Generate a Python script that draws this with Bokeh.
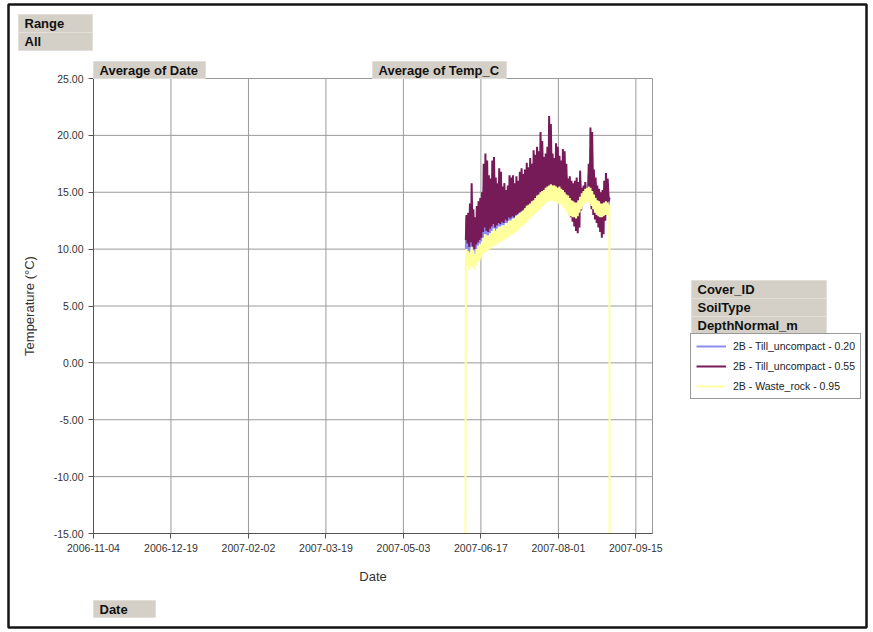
import pandas as pd
from bokeh.plotting import figure
from bokeh.models import (FixedTicker, DatetimeTickFormatter, NumeralTickFormatter, Range1d,
                          Legend, LegendItem, Label, BoxAnnotation)
from bokeh.embed import file_html
from bokeh.resources import INLINE

# ---------------- data ----------------
first_day = "2007-06-08"          # day 0 of the daily arrays below
x_start, x_end = "2006-11-04", "2007-09-24 16:00"
x_tick_labels = ["2006-11-04", "2006-12-19", "2007-02-02", "2007-03-19",
                 "2007-05-03", "2007-06-17", "2007-08-01", "2007-09-15"]
y_ticks = [-15, -10, -5, 0, 5, 10, 15, 20, 25]

series_names = ["2B - Till_uncompact - 0.20",
                "2B - Till_uncompact - 0.55",
                "2B - Waste_rock - 0.95"]

# daily minimum / maximum, Till_uncompact 0.20 m
till_020_lo = [10.0, 9.8, 9.7, 10.0, 9.8, 9.6, 10.0, 10.3, 10.5, 10.7, 11.0, 11.3, 11.2, 11.2, 11.4,
               11.6, 11.8, 11.6, 11.8, 12.0, 12.0, 12.1, 12.1, 12.3, 12.3, 12.5, 12.5, 12.7, 12.7,
               12.9, 13.0, 13.1, 13.2, 13.3, 13.5, 13.6, 13.8, 13.9, 14.0, 14.1, 14.3, 14.5, 14.6,
               14.8, 15.0, 15.1, 15.2, 15.3, 15.4, 15.5, 15.4, 15.4, 15.3, 15.2, 15.3, 15.1, 14.9,
               14.7, 14.4, 14.0, 13.6, 13.4, 13.2, 13.0, 12.8, 12.8, 13.2, 13.8, 14.2, 14.5, 14.6,
               14.8, 14.6, 14.2, 13.8, 13.5, 13.2, 12.9, 12.7, 12.6, 12.8, 13.2, 13.6, 13.8]
till_020_hi = [12.8, 12.5, 13.0, 14.0, 12.6, 12.2, 12.8, 13.2, 13.5, 13.8, 15.5, 16.2, 15.8, 14.9, 14.8,
               15.9, 16.2, 15.0, 14.8, 15.6, 15.4, 14.6, 14.8, 14.5, 14.8, 15.4, 15.3, 15.5, 15.0,
               15.4, 15.2, 15.8, 16.0, 15.7, 16.0, 16.4, 16.2, 16.8, 16.5, 17.3, 17.0, 17.5, 17.2,
               18.2, 17.8, 17.0, 17.2, 17.6, 19.2, 18.8, 17.2, 17.0, 17.8, 17.6, 17.1, 16.8, 17.4,
               17.2, 16.5, 15.6, 15.7, 15.4, 15.2, 15.4, 15.6, 15.3, 16.0, 15.2, 15.4, 15.6, 15.1,
               16.6, 18.8, 18.5, 16.3, 15.8, 15.2, 15.0, 14.8, 14.9, 15.5, 16.0, 15.7, 14.6]

# daily minimum / maximum, Till_uncompact 0.55 m
till_055_lo = [10.8, 10.5, 10.2, 10.6, 10.2, 10.0, 10.4, 10.6, 10.8, 11.0, 11.5, 11.9, 11.6, 11.5, 11.8,
               12.0, 12.2, 11.9, 12.1, 12.3, 12.2, 12.4, 12.3, 12.6, 12.5, 12.8, 12.7, 12.9, 12.8,
               13.0, 13.1, 13.2, 13.2, 13.4, 13.5, 13.6, 13.8, 13.9, 14.0, 14.1, 14.2, 14.4, 14.5,
               14.7, 14.9, 15.0, 15.1, 15.2, 15.3, 15.4, 15.3, 15.3, 15.2, 15.1, 15.2, 15.0, 14.8,
               14.6, 14.3, 13.6, 13.0, 12.8, 12.4, 12.0, 11.6, 11.4, 11.9, 13.4, 14.0, 14.3, 14.5,
               14.6, 14.2, 13.5, 13.0, 12.6, 12.3, 11.9, 11.5, 11.0, 11.3, 12.5, 13.6, 14.2]
till_055_hi = [13.0, 13.2, 14.0, 15.8, 13.5, 12.8, 13.8, 14.2, 14.5, 15.0, 17.5, 18.4, 17.8, 16.5, 16.2,
               17.8, 18.1, 16.3, 15.8, 17.1, 16.8, 15.5, 15.8, 15.2, 15.6, 16.5, 16.3, 16.5, 15.8,
               16.4, 16.0, 16.8, 17.1, 16.6, 17.0, 17.6, 17.2, 18.0, 17.5, 18.7, 18.3, 19.0, 18.6,
               20.3, 19.5, 18.1, 18.4, 19.0, 21.7, 21.0, 18.4, 18.0, 19.3, 19.0, 18.2, 17.8, 18.8,
               18.6, 17.5, 16.2, 16.4, 16.0, 15.8, 16.0, 16.3, 15.9, 16.9, 15.4, 15.6, 15.9, 15.2,
               17.5, 20.7, 20.3, 17.0, 16.3, 15.6, 15.3, 15.0, 15.2, 16.0, 16.7, 16.2, 14.5]

# daily minimum / maximum, Waste_rock 0.95 m (plus the off-scale readings at both ends)
waste_095_lo = [8.8, 8.5, 8.2, 8.6, 8.4, 8.2, 8.6, 8.9, 9.0, 9.2, 9.5, 9.7, 9.8, 9.9, 10.0,
                10.2, 10.3, 10.3, 10.4, 10.6, 10.6, 10.7, 10.8, 10.9, 11.0, 11.1, 11.2, 11.3, 11.4,
                11.5, 11.6, 11.8, 11.9, 12.0, 12.2, 12.3, 12.5, 12.6, 12.8, 12.9, 13.1, 13.2, 13.4,
                13.5, 13.7, 13.8, 14.0, 14.1, 14.2, 14.2, 14.3, 14.2, 14.3, 14.1, 14.0, 14.0, 13.8,
                13.6, 13.4, 13.2, 13.0, 12.9, 12.8, 12.8, 12.7, 12.9, 13.2, 13.5, 13.8, 14.0, 14.1,
                14.2, 14.0, 13.8, 13.5, 13.2, 13.0, 12.9, 12.8, 12.8, 12.9, 13.0, 13.0, 12.9]
waste_095_hi = [10.0, 9.8, 9.6, 10.2, 9.9, 9.5, 10.0, 10.3, 10.4, 10.6, 11.0, 11.3, 11.2, 11.2, 11.4,
                11.6, 11.8, 11.6, 11.7, 11.9, 11.9, 12.0, 12.1, 12.1, 12.3, 12.5, 12.5, 12.6, 12.7,
                12.9, 13.0, 13.2, 13.3, 13.4, 13.6, 13.8, 13.9, 14.0, 14.2, 14.3, 14.5, 14.7, 14.8,
                15.0, 15.1, 15.2, 15.4, 15.5, 15.6, 15.7, 15.6, 15.6, 15.5, 15.4, 15.5, 15.3, 15.2,
                15.0, 14.8, 14.7, 14.5, 14.3, 14.2, 14.1, 14.1, 14.3, 14.6, 14.9, 15.1, 15.3, 15.4,
                15.5, 15.4, 15.1, 14.8, 14.5, 14.3, 14.2, 14.0, 14.0, 14.1, 14.2, 14.1, 13.9]
waste_095_first = -15.0   # off-scale reading at the start (line runs to the axis floor)
waste_095_last = -15.0    # off-scale reading at the end

colors = ["#8C8CF2", "#761A58", "#FFFF9E"]


# ---------------- build series (min at 06:00, max at 15:00 each day) ----------------
def series(lo, hi):
    base = pd.Timestamp(first_day)
    xs, ys = [], []
    for d, (a, b) in enumerate(zip(lo, hi)):
        xs.append(base + pd.Timedelta(days=d, hours=6)); ys.append(a)
        xs.append(base + pd.Timedelta(days=d, hours=15)); ys.append(b)
    return xs, ys


def ms(t):
    return pd.Timestamp(t).value / 1e6


# ---------------- page layout (canvas pixels) ----------------
FONT = "Liberation Sans"
W, H = 873, 632
AREA_L, AREA_R, AREA_T, AREA_B = 93, 652, 78, 533   # plot-area box inside the page

t0, t1 = ms(x_start), ms(x_end)
px_per_ms = (AREA_R - AREA_L) / (t1 - t0)
y0, y1 = y_ticks[0], y_ticks[-1]
px_per_deg = (AREA_B - AREA_T) / (y1 - y0)

p = figure(width=W, height=H, x_axis_type="datetime", output_backend="svg",
           toolbar_location=None,
           x_range=Range1d(t0 - AREA_L / px_per_ms, t1 + (W - AREA_R) / px_per_ms),
           y_range=Range1d(y0 - (H - AREA_B) / px_per_deg, y1 + AREA_T / px_per_deg),
           min_border_left=0, min_border_top=0, min_border_right=0, min_border_bottom=0)
p.background_fill_color = "white"
p.border_fill_color = "white"
p.outline_line_color = None
p.xgrid.visible = False
p.ygrid.visible = False

tick_ms = [ms(t) for t in x_tick_labels]

# outer frame of the page
p.add_layout(BoxAnnotation(left=8, right=866, top=H - 4, bottom=H - 627,
                           left_units="screen", right_units="screen",
                           top_units="screen", bottom_units="screen",
                           fill_alpha=0, line_color="#151515", line_alpha=1, line_width=2.5))

# grid lines of the plot area
p.segment(x0=tick_ms, y0=y0, x1=tick_ms, y1=y1, line_color="#9a9a9a", line_width=1)
p.segment(x0=t0, y0=y_ticks, x1=t1, y1=y_ticks, line_color="#9a9a9a", line_width=1)
p.segment(x0=[t1], y0=y0, x1=[t1], y1=y1, line_color="#9a9a9a", line_width=1)

renderers = []
for name, lo, hi, col in zip(series_names,
                             [till_020_lo, till_055_lo, waste_095_lo],
                             [till_020_hi, till_055_hi, waste_095_hi], colors):
    xs, ys = series(lo, hi)
    if name.endswith("0.95"):
        xs = [pd.Timestamp(first_day)] + xs + [xs[-1] + pd.Timedelta(hours=3)]
        ys = [waste_095_first] + ys + [waste_095_last]
    r = p.line(xs, ys, line_color=col, line_width=2)
    renderers.append(r)

# axes, pinned to the plot-area edges
p.xaxis.fixed_location = y0
p.yaxis.fixed_location = t0
p.xaxis.bounds = (t0, t1)
p.yaxis.bounds = (y0, y1)
p.xaxis.ticker = FixedTicker(ticks=tick_ms)
fmt = "%Y-%m-%d"
p.xaxis.formatter = DatetimeTickFormatter(milliseconds=fmt, seconds=fmt, minsec=fmt, minutes=fmt,
                                          hourmin=fmt, hours=fmt, days=fmt, months=fmt, years=fmt)
p.yaxis.ticker = FixedTicker(ticks=y_ticks)
p.yaxis.formatter = NumeralTickFormatter(format="0.00")
p.xaxis.axis_label = "Date"
p.yaxis.axis_label = "Temperature (°C)"
for ax in (p.xaxis[0], p.yaxis[0]):
    ax.axis_line_color = "#555555"
    ax.major_tick_line_color = "#555555"
    ax.major_tick_in = 0
    ax.major_tick_out = 5
    ax.minor_tick_line_color = None
    ax.major_label_text_font = FONT
    ax.major_label_text_font_size = "10.5px"
    ax.major_label_text_color = "#333333"
    ax.axis_label_text_font = FONT
    ax.axis_label_text_font_size = "13px"
    ax.axis_label_text_font_style = "normal"
    ax.axis_label_text_color = "#333333"
p.yaxis.major_label_standoff = 5
p.yaxis.axis_label_standoff = 14
p.xaxis.major_label_standoff = 5
p.xaxis.axis_label_standoff = 14

# legend
LEG_L, LEG_B = 690, 399
legend = Legend(items=[LegendItem(label=n, renderers=[r]) for n, r in zip(series_names, renderers)],
                location=(LEG_L, H - LEG_B), orientation="vertical")
legend.label_text_font = FONT
legend.label_text_font_size = "10.5px"
legend.label_text_color = "#222222"
legend.glyph_width = 30
legend.glyph_height = 14
legend.label_height = 14
legend.label_standoff = 7
legend.spacing = 6
legend.padding = 5
legend.margin = 0
legend.border_line_color = "#9a9a9a"
legend.border_line_width = 1
legend.border_line_alpha = 1
legend.background_fill_color = "white"
legend.background_fill_alpha = 1
p.add_layout(legend)

# grey field buttons: (text, left, top, width, height) in canvas pixels
buttons = [("Range", 18, 14, 74, 18), ("All", 18, 32, 74, 18),
           ("Average of Date", 93, 61, 112, 17), ("Average of Temp_C", 372, 61, 134, 17),
           ("Date", 93, 600, 62, 17),
           ("Cover_ID", 691, 280, 135, 18), ("SoilType", 691, 298, 135, 18),
           ("DepthNormal_m", 691, 316, 135, 18)]
for text, l, t, w, h in buttons:
    p.add_layout(BoxAnnotation(left=l, right=l + w, top=H - t, bottom=H - (t + h),
                               left_units="screen", right_units="screen",
                               top_units="screen", bottom_units="screen",
                               fill_color="#d4d0c8", fill_alpha=1,
                               line_color="#e2dfd9", line_alpha=1, line_width=1))
    p.add_layout(Label(x=l + 6, y=H - (t + h / 2), x_units="screen", y_units="screen", text=text,
                       text_font=FONT, text_font_size="13px", text_font_style="bold",
                       text_color="#111111", text_baseline="middle", text_align="left"))

open("out.html", "w").write(file_html(p, INLINE))
